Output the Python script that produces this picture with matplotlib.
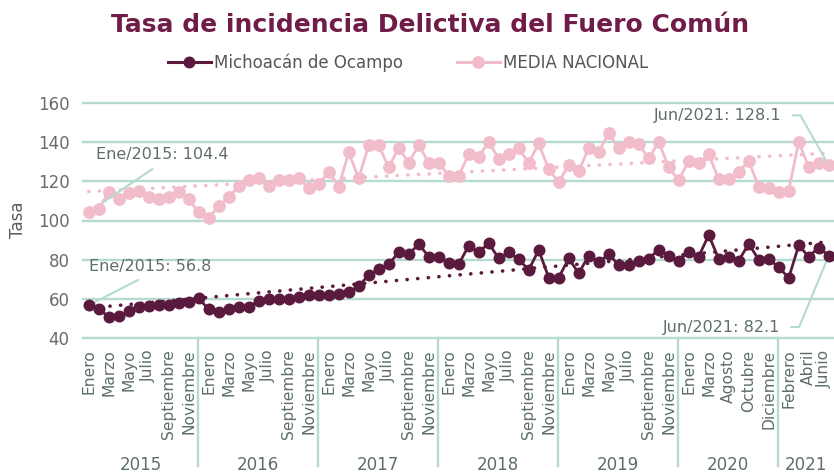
import numpy as np
import matplotlib
matplotlib.use("Agg")
import matplotlib.pyplot as plt
import matplotlib.transforms as mtransforms
from matplotlib.lines import Line2D

# ---------------- data ----------------
years = ["2015", "2016", "2017", "2018", "2019", "2020", "2021"]
full_year = ["Enero", "Febrero", "Marzo", "Abril", "Mayo", "Junio", "Julio",
             "Agosto", "Septiembre", "Octubre", "Noviembre", "Diciembre"]
months_2020 = ["Enero", "Febrero", "Marzo", "Abril", "Agosto", "Septiembre",
               "Octubre", "Noviembre", "Diciembre", "Enero"]
months_2021 = ["Febrero", "Marzo", "Abril", "Mayo", "Junio"]
month_labels = full_year * 5 + months_2020 + months_2021
year_counts = [12, 12, 12, 12, 12, 10, 5]

michoacan = [56.8, 54.8, 51.0, 51.2, 53.7, 56.0, 56.2, 57.0, 57.2, 58.0, 58.5, 60.3,
             54.8, 53.3, 54.8, 55.8, 56.0, 59.2, 60.0, 60.2, 60.2, 61.2, 62.0, 62.0,
             62.0, 62.5, 63.4, 66.6, 72.2, 75.3, 77.7, 83.8, 82.8, 88.0, 81.6, 81.6,
             78.5, 77.7, 87.2, 83.8, 88.4, 80.7, 83.8, 80.2, 74.8, 85.0, 70.9, 70.9,
             80.7, 73.1, 82.1, 78.7, 82.9, 77.3, 77.3, 79.5, 80.5, 85.2, 82.0, 79.5,
             84.0, 81.6, 92.6, 80.5, 81.6, 79.5, 88.2, 80.0, 80.3, 76.3, 70.7, 87.3,
             81.6, 86.2, 82.1]
nacional = [104.4, 105.7, 114.6, 110.8, 114.1, 115.2, 112.1, 110.8, 112.1, 114.3, 110.8, 104.2,
            101.1, 107.5, 111.8, 117.5, 120.6, 121.5, 117.5, 120.6, 120.6, 121.5, 116.4, 118.4,
            124.8, 117.3, 134.7, 121.5, 138.4, 138.4, 127.1, 137.0, 129.4, 138.4, 129.4, 129.4,
            122.8, 122.8, 133.8, 132.5, 140.1, 131.3, 133.7, 136.7, 129.4, 139.3, 126.0, 119.5,
            128.2, 125.2, 136.7, 135.0, 144.4, 136.7, 140.1, 138.9, 131.6, 140.1, 127.1, 120.6,
            130.3, 129.1, 133.8, 121.0, 121.0, 124.8, 130.3, 117.2, 116.4, 114.3, 115.2, 140.1,
            127.1, 129.4, 128.1]
series_names = ["Michoacán de Ocampo", "MEDIA NACIONAL"]
y_ticks = [40, 60, 80, 100, 120, 140, 160]

# ---------------- style ----------------
DARK = "#5a1a3e"
PINK = "#f2bdca"
GRID = "#b5dad0"
TEXT = "#5e6f6b"
TITLE = "#701c48"

plt.rcParams['font.family'] = ['DejaVu Sans']

fig = plt.figure(figsize=(8.34, 4.75), dpi=100)
W, H = 834, 475
ax = fig.add_axes([83.3 / W, 1 - 338.3 / H, (W - 83.3) / W, (338.3 - 102.7) / H])

x = np.arange(len(michoacan))

# gridlines
for yt in y_ticks:
    ax.axhline(yt, color=GRID, lw=1.7, zorder=0, clip_on=False)

# trend lines (linear fit, dotted)
for vals, col in [(nacional, PINK), (michoacan, DARK)]:
    m, b = np.polyfit(x, vals, 1)
    ax.plot(x, m * x + b, color=col, lw=2.6, ls=(0, (0.05, 2.9)),
            dash_capstyle='round', zorder=2)

ax.plot(x, nacional, color=PINK, lw=2.0, marker='o', ms=8.2, zorder=3)
ax.plot(x, michoacan, color=DARK, lw=2.0, marker='o', ms=7.6, zorder=4)

ax.set_xlim(-0.54, 74.53)
ax.set_ylim(40, 160)
ax.set_yticks(y_ticks)
ax.tick_params(axis='y', length=0, pad=10, labelsize=12, labelcolor="#6b6b6b")
ax.set_xticks(x[::2])
ax.set_xticklabels(month_labels[::2], rotation=90, va='top', ha='center')
ax.tick_params(axis='x', length=0, pad=8, labelsize=11.2, labelcolor=TEXT)
for s in ax.spines.values():
    s.set_visible(False)
# nudge the last month label so it stays inside the figure
last_lbl = ax.get_xticklabels()[-1]
last_lbl.set_transform(last_lbl.get_transform() +
                       mtransforms.ScaledTranslation(-4 / 100, 0, fig.dpi_scale_trans))

# year separators and labels
trans = ax.get_xaxis_transform()
ax_h = 338.3 - 102.7
sep_bottom = -(466 - 338.3) / ax_h
start = 0
bounds = [-0.54]
for i, n in enumerate(year_counts):
    end = start + n - 1
    if i < len(year_counts) - 1:
        bx = end - 0.1
        ax.plot([bx, bx], [0, sep_bottom], transform=trans, color=GRID, lw=1.7,
                clip_on=False)
        bounds.append(bx)
    else:
        bounds.append(74.53)
    start += n
for i, yr in enumerate(years):
    cx = (bounds[i] + bounds[i + 1]) / 2
    ax.text(cx, -(465 - 338.3) / ax_h, yr, transform=trans, ha='center', va='center',
            fontsize=12, color=TEXT)

# annotations
ann_kw = dict(textcoords='offset points', fontsize=11.5, color=TEXT)
ax.annotate(f"Ene/2015: {nacional[0]}", xy=(x[0], nacional[0]), xytext=(53, 41),
            ha='center', va='center',
            arrowprops=dict(arrowstyle='-', color=GRID, lw=1.5, shrinkA=5, shrinkB=13,
                            relpos=(0.5, 0)), **ann_kw)
ax.annotate(f"Ene/2015: {michoacan[0]}", xy=(x[0], michoacan[0]), xytext=(44, 28),
            ha='center', va='center',
            arrowprops=dict(arrowstyle='-', color=GRID, lw=1.5, shrinkA=5, shrinkB=3,
                            relpos=(0.5, 0)), **ann_kw)
ax.annotate(f"Jun/2021: {nacional[-1]}", xy=(x[-1], nacional[-1]), xytext=(-34, 36),
            ha='right', va='center',
            arrowprops=dict(arrowstyle='-', color=GRID, lw=1.5, shrinkA=6, shrinkB=3,
                            relpos=(1, 0.5),
                            connectionstyle="angle,angleA=0,angleB=119.5,rad=0"),
            **ann_kw)
ax.annotate(f"Jun/2021: {michoacan[-1]}", xy=(x[-1], michoacan[-1]), xytext=(-35, -51.4),
            ha='right', va='center',
            arrowprops=dict(arrowstyle='-', color=GRID, lw=1.5, shrinkA=6, shrinkB=3,
                            relpos=(1, 0.5),
                            connectionstyle="angle,angleA=0,angleB=67.5,rad=0"),
            **ann_kw)

# title
fig.text(430 / W, 1 - 25 / H, "Tasa de incidencia Delictiva del Fuero Común",
         ha='center', va='center', fontsize=18, fontweight='heavy', color=TITLE)

# y label
fig.text(18 / W, 1 - 220 / H, "Tasa", rotation=90, ha='center', va='center',
         fontsize=12, color="#5b5b5b")

# legend
handles = [Line2D([], [], color=DARK, lw=2.2, marker='o', ms=7.6),
           Line2D([], [], color=PINK, lw=2.2, marker='o', ms=8.2)]
leg = fig.legend(handles, series_names, loc='center', bbox_to_anchor=(408 / W, 1 - 63 / H),
                 ncol=2, frameon=False, fontsize=12, handlelength=2.6, handletextpad=0.2,
                 columnspacing=3.2)
for t in leg.get_texts():
    t.set_color("#555555")

fig.savefig("out.png", dpi=100)
